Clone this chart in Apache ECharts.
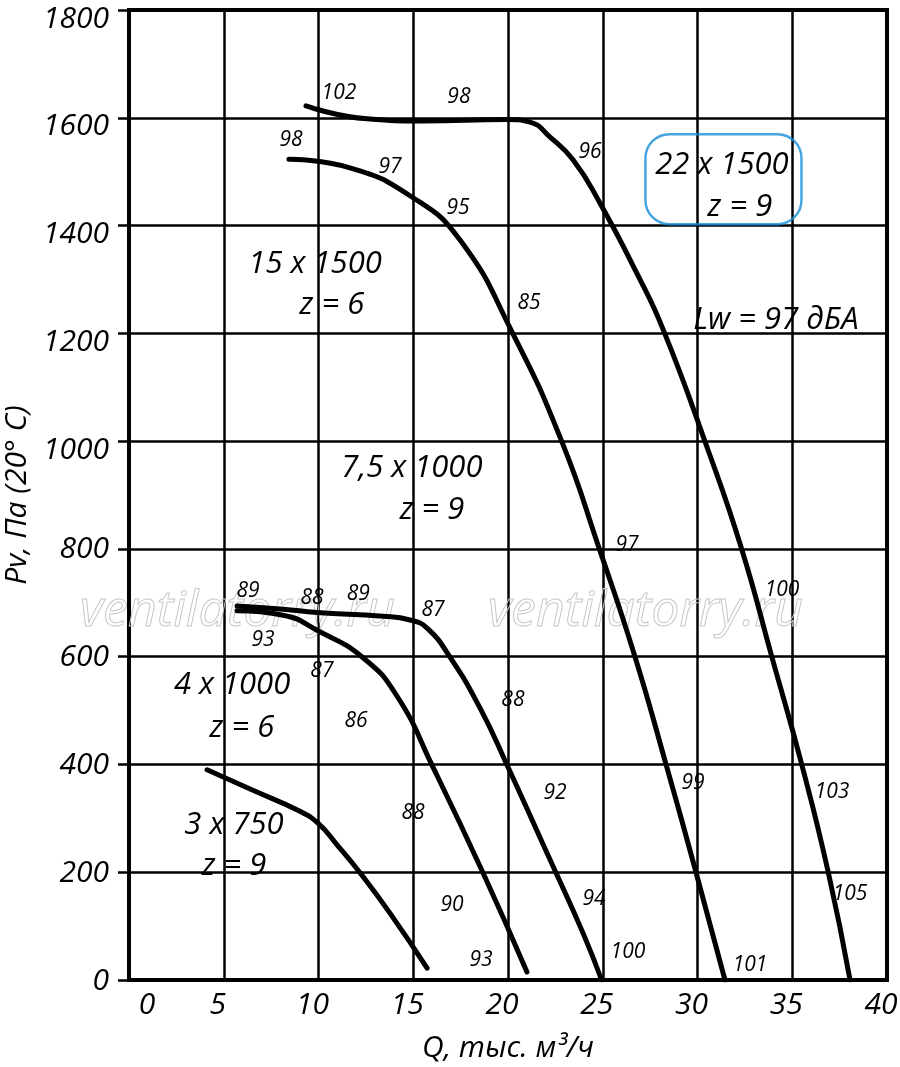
<!DOCTYPE html>
<html>
<head>
<meta charset="utf-8">
<script src="https://cdn.jsdelivr.net/npm/echarts@6/dist/echarts.min.js"></script>
<style>
html,body{margin:0;padding:0;background:#fff;}
#chart{width:900px;height:1067px;}
</style>
</head>
<body>
<div id="chart"></div>
<script>
// характеристики вентиляторов: [Q тыс. м3/ч, Pv Па]
var curve3x750 = [[4.12,390],[6.54,352],[9.02,313],[10.0,290],[11.0,250],[12.19,199],[13.77,124],[15.73,22]];
var curve4x1000 = [[5.70,685],[8.13,677],[9.92,649],[12.35,598],[14.14,527],[16.04,395],[18.68,199],[21.0,15]];
var curve75x1000 = [[5.70,694],[8.13,688],[9.92,682],[13.40,675],[14.83,668],[15.73,653],[16.94,599],[18.52,505],[19.95,399],[22.22,223],[23.96,87],[24.94,0]];
var curve15x1500 = [[8.44,1523],[11.66,1507],[14.93,1453],[17.47,1373],[20.25,1200],[22.83,1000],[24.82,800],[26.7,600],[28.34,400],[29.92,200],[31.45,0]];
var curve22x1500 = [[9.34,1622],[12.56,1598],[15.5,1594],[19.95,1597],[21.16,1592],[22.22,1564],[23.43,1522],[24.85,1442],[26.79,1312],[28.2,1206],[30.49,990],[32.33,800],[33.92,600],[35.5,400],[36.9,200],[38.05,0]];

// уровни шума на кривых
var noiseLabels = [
    [11.08,1646,'102'],[17.41,1639,'98'],[24.33,1536,'96'],
    [8.55,1559,'98'],[13.77,1509,'97'],[17.36,1433,'95'],[21.11,1256,'85'],
    [26.28,807,'97'],[29.76,366,'99'],[26.33,52,'100'],
    [34.46,724,'100'],[37.1,349,'103'],[38.05,160,'105'],[32.77,28,'101'],
    [6.28,722,'89'],[9.66,709,'88'],[12.1,716,'89'],[16.04,687,'87'],
    [20.26,520,'88'],[22.48,347,'92'],[24.54,150,'94'],
    [7.07,631,'93'],[10.18,573,'87'],[11.98,481,'86'],
    [14.99,310,'88'],[17.05,139,'90'],[18.58,37,'93']
];

// подписи типоразмеров
var fanLabels = [
    [9.82,1329,'15 x 1500'],[10.71,1253,'z = 6'],
    [14.93,950,'7,5 x 1000'],[15.99,872,'z = 9'],
    [5.44,547,'4 x 1000'],[5.96,468,'z = 6'],
    [5.54,288,'3 x 750'],[5.54,212,'z = 9'],
    [31.29,1512,'22 x 1500'],[32.24,1434,'z = 9'],
    [34.14,1225,'Lw = 97 дБА']
];
var boxCenter = [31.37,1486];

var FONT = '"Open Sans", "DejaVu Sans", sans-serif';
var tickFont = {fontSize: 30, fontStyle: 'italic', fontFamily: FONT, color: '#000'};

function curve(name, data){
    return {
        name: name,
        type: 'line',
        data: data,
        smooth: 0.5,
        showSymbol: false,
        symbol: 'none',
        silent: true,
        z: 5,
        lineStyle: {color: '#000', width: 5, cap: 'round'}
    };
}

function textSeries(list, size){
    return {
        type: 'scatter', silent: true, z: 6, symbolSize: 0,
        itemStyle: {opacity: 1},
        data: list.map(function(d){ return {value: [d[0], d[1]], name: d[2]}; }),
        label: {show: true, position: 'inside', formatter: function(p){ return p.name; },
                fontSize: size, fontStyle: 'italic', fontFamily: FONT, color: '#000',
                opacity: 1, textBorderWidth: 0}
    };
}

var myChart = echarts.init(document.getElementById('chart'));
myChart.setOption({
    animation: false,
    backgroundColor: '#fff',
    grid: {left: 129, right: 13, top: 10, bottom: 87, outerBoundsMode: 'none', containLabel: false,
           show: true, borderColor: '#000', borderWidth: 4, backgroundColor: 'transparent'},
    graphic: [
        {type: 'text', x: 80, y: 612, z: 1, silent: true,
         style: {text: 'ventilatorry.ru', fontSize: 50, fontStyle: 'italic', fontFamily: FONT, fill: 'rgba(255,255,255,0)', stroke: '#c8c8c8', lineWidth: 1, textVerticalAlign: 'middle'}},
        {type: 'text', x: 488, y: 612, z: 1, silent: true,
         style: {text: 'ventilatorry.ru', fontSize: 50, fontStyle: 'italic', fontFamily: FONT, fill: 'rgba(255,255,255,0)', stroke: '#c8c8c8', lineWidth: 1, textVerticalAlign: 'middle'}}
    ],
    xAxis: {
        type: 'value', min: 0, max: 40, interval: 5,
        name: 'Q, тыс. м³/ч', nameLocation: 'middle', nameGap: 53,
        nameTextStyle: tickFont,
        axisLine: {show: true, onZero: false, lineStyle: {color: '#000', width: 4}},
        axisTick: {show: false},
        axisLabel: Object.assign({}, tickFont, {
            margin: 10,
            formatter: function(v){ return v === 0 ? '{z|0}' : '{n|' + v + '}'; },
            rich: {
                z: Object.assign({}, tickFont, {padding: [0,0,0,36]}),
                n: Object.assign({}, tickFont, {padding: [0,12,0,0]})
            }
        }),
        splitLine: {show: true, lineStyle: {color: '#000', width: 2.5}}
    },
    yAxis: {
        type: 'value', min: 0, max: 1800, interval: 200,
        name: 'Pv, Па (20° C)', nameLocation: 'middle', nameGap: 88, nameRotate: 90,
        nameTextStyle: tickFont,
        axisLine: {show: true, lineStyle: {color: '#000', width: 4}},
        axisTick: {show: true, inside: false, length: 11, lineStyle: {color: '#000', width: 2.5}},
        axisLabel: Object.assign({}, tickFont, {
            margin: 20,
            formatter: function(v){ return v >= 1000 ? '{h|' + v + '}' : '{l|' + v + '}'; },
            rich: {
                h: Object.assign({}, tickFont, {padding: [18,0,0,0]}),
                l: Object.assign({}, tickFont, {padding: [2,0,0,0]})
            }
        }),
        splitLine: {show: true, lineStyle: {color: '#000', width: 2.5}}
    },
    series: [
        curve('3 x 750', curve3x750),
        curve('4 x 1000', curve4x1000),
        curve('7,5 x 1000', curve75x1000),
        curve('15 x 1500', curve15x1500),
        curve('22 x 1500', curve22x1500),
        textSeries(noiseLabels, 21),
        textSeries(fanLabels, 31),
        {
            type: 'scatter', silent: true, z: 6, symbolSize: 0,
            data: [{value: boxCenter, name: ' '}],
            label: {show: true, position: 'inside', formatter: ' ', width: 156, height: 90,
                    borderColor: '#178fd8', borderWidth: 2.5, borderRadius: 24, padding: 0}
        }
    ]
});
</script>
</body>
</html>
